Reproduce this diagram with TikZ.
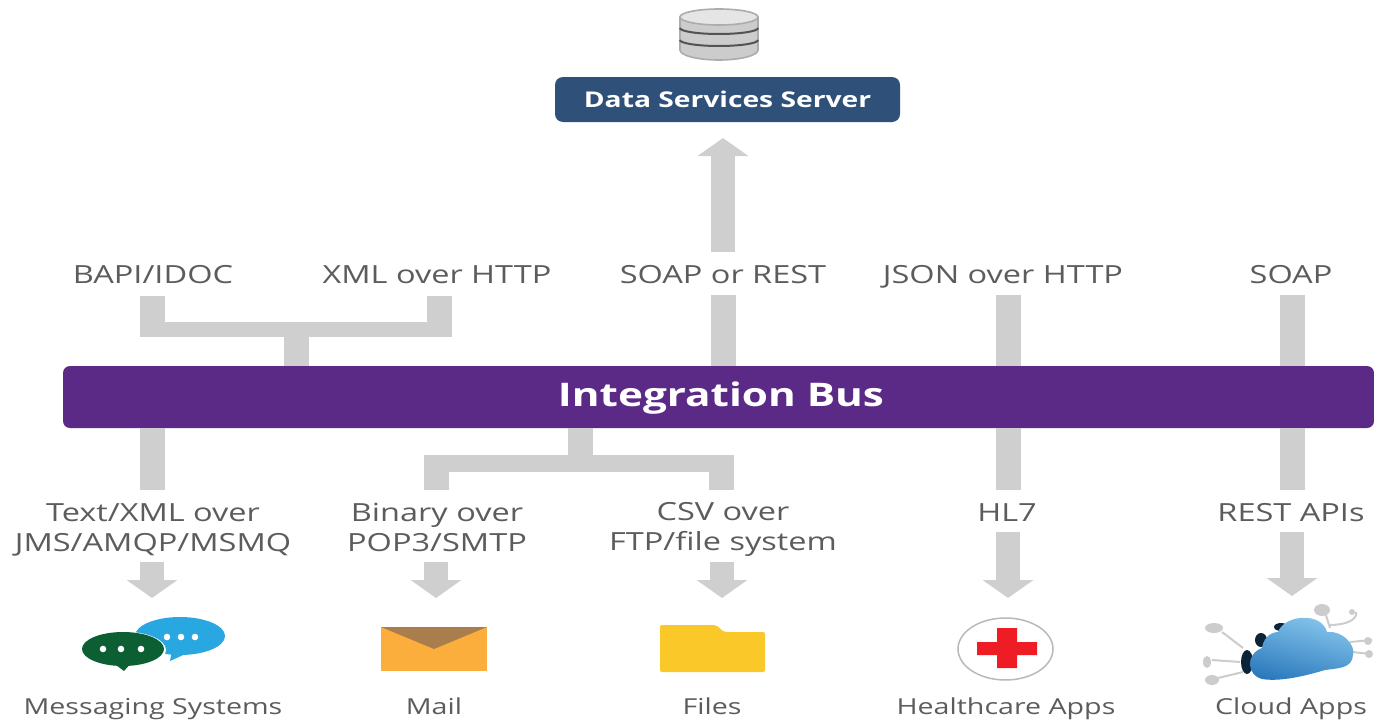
\documentclass[tikz,border=0pt]{standalone}
\usepackage{fontspec}
\setmainfont{Open Sans}
\newfontfamily\widefont[FakeStretch=1.3]{Open Sans}
\usetikzlibrary{arrows.meta}
\definecolor{barc}{HTML}{CFCFCF}
\definecolor{txt}{HTML}{5C5C5C}
\definecolor{busc}{HTML}{5B2A86}
\definecolor{srv}{HTML}{2F5078}
\definecolor{msgblue}{HTML}{29A7E1}
\definecolor{msggreen}{HTML}{0B5F33}
\definecolor{envbody}{HTML}{FBAE3C}
\definecolor{envflap}{HTML}{A97E4C}
\definecolor{foldc}{HTML}{FBC82A}
\definecolor{crossc}{HTML}{EE1C25}
\definecolor{cloudlight}{HTML}{8CCBF0}
\definecolor{clouddark}{HTML}{2A78BC}
\tikzset{
  lbl/.style={text=txt,font=\widefont\fontsize{25}{30}\selectfont,align=center,inner sep=0pt,anchor=center,text height=18pt,text depth=0pt},
  caplbl/.style={text=txt,font=\widefont\fontsize{22}{26}\selectfont,inner sep=0pt,anchor=center,text height=16pt,text depth=0pt},
  bar/.style={draw=barc,line width=25pt},
  hbar/.style={draw=barc},
  arr/.style={draw=barc,line width=24pt,-{Triangle[width=50pt,length=18pt]}},
  doodle/.style={draw=gray!40,line width=2pt},
}
\begin{document}
\begin{tikzpicture}[x=1pt,y=-1pt]
\useasboundingbox (0,0) rectangle (1374,720);
% nodes
\node[fill=busc,rounded corners=7pt,minimum width=1311pt,minimum height=62pt,inner sep=0pt] (bus) at (718.5,397) {};
\node[text=white,inner sep=0pt,font=\widefont\bfseries\fontsize{32.5}{36}\selectfont,text height=23pt,text depth=0pt] (bustxt) at (721,395) {Integration Bus};
\node[fill=srv,rounded corners=8pt,minimum width=345pt,minimum height=45pt,inner sep=0pt] (server) at (727.5,99.5) {};
\node[text=white,inner sep=0pt,font=\widefont\bfseries\fontsize{21.7}{24}\selectfont,text height=15pt,text depth=0pt] (servertxt) at (727.5,99.5) {Data Services Server};
\node[lbl] (bapi) at (153,274) {BAPI/IDOC};
\node[lbl] (xml) at (437,274) {XML over HTTP};
\node[lbl] (soaprest) at (723,274) {SOAP or REST};
\node[lbl] (json) at (1003,274) {JSON over HTTP};
\node[lbl] (soap) at (1291,274) {SOAP};
\node[lbl] (textxml) at (153,542) {Text/XML over\\JMS/AMQP/MSMQ};
\node[lbl] (binary) at (437,542) {Binary over\\POP3/SMTP};
\node[lbl] (csv) at (723,541) {CSV over\\FTP/file system};
\node[lbl] (hl) at (1007,512) {HL7};
\node[lbl] (rest) at (1291,512) {REST APIs};
\node[caplbl] (capmsg) at (153,706) {Messaging Systems};
\node[caplbl] (capmail) at (434,706) {Mail};
\node[caplbl] (capfiles) at (712,706) {Files};
\node[caplbl] (caphealth) at (1006,706) {Healthcare Apps};
\node[caplbl] (capcloud) at (1291,706) {Cloud Apps};
% coordinates
\coordinate (jl) at (296,329.5);
\coordinate (jb) at (580,463.5);
\coordinate (a) at (152.5,296);
\coordinate (b) at (439,296);
\coordinate (aend) at (296,337);
\coordinate (s) at (723,295);
\coordinate (j) at (1008,295);
\coordinate (r) at (1292,295);
\coordinate (lm) at (152,490);
\coordinate (lb) at (436.5,490);
\coordinate (lc) at (721.5,490);
\coordinate (lh) at (1008,490);
\coordinate (lr) at (1292,490);
\coordinate (bstart) at (580,455);
% connectors
\draw[bar] (a) -- (a |- aend);
\draw[bar] (b) -- (b |- aend);
\draw[hbar,line width=15pt] (a |- jl) -- (b |- jl);
\draw[bar] (jl) -- (jl |- bus.north);
\draw[bar] (s) -- (s |- bus.north);
\draw[bar] (j) -- (j |- bus.north);
\draw[bar] (r) -- (r |- bus.north);
\draw[bar] (lm |- bus.south) -- (lm);
\draw[bar] (jb |- bus.south) -- (jb);
\draw[hbar,line width=17pt] (lb |- jb) -- (lc |- jb);
\draw[bar] (lb |- bstart) -- (lb);
\draw[bar] (lc |- bstart) -- (lc);
\draw[bar] (lh |- bus.south) -- (lh);
\draw[bar] (lr |- bus.south) -- (lr);
\coordinate (upstart) at (723,252);
\coordinate (uptip) at (723,138);
\draw[arr] (upstart) -- (uptip);
\coordinate (d1) at (152,562); \coordinate (e1) at (152,598);
\coordinate (d2) at (436,562); \coordinate (e2) at (436,598);
\coordinate (d3) at (722,562); \coordinate (e3) at (722,598);
\coordinate (d4) at (1008,532); \coordinate (e4) at (1008,598);
\coordinate (d5) at (1292,532); \coordinate (e5) at (1292,596);
\draw[arr] (d1) -- (e1);
\draw[arr] (d2) -- (e2);
\draw[arr] (d3) -- (e3);
\draw[arr] (d4) -- (e4);
\draw[arr] (d5) -- (e5);
% database icon
\fill[gray!40] (680,17) -- (680,50) arc[start angle=180,end angle=0,x radius=39,y radius=10] -- (758,17) -- cycle;
\draw[gray!65,line width=1.6pt] (680,17) -- (680,50) arc[start angle=180,end angle=0,x radius=39,y radius=10] -- (758,17);
\draw[gray!65,line width=1.6pt,fill=gray!20] (719,17) ellipse[x radius=39,y radius=8];
\draw[line width=2pt,gray!65!black] (680,28) arc[start angle=180,end angle=0,x radius=39,y radius=6];
\draw[line width=2pt,gray!65!black] (680,40) arc[start angle=180,end angle=0,x radius=39,y radius=6];
% messaging icon
\fill[msgblue] (180,636) ellipse[x radius=45,y radius=19];
\fill[msgblue] (172,650) -- (190,652) -- (170,661) -- cycle;
\foreach \x in {167,181,195}{\fill[white] (\x,637) circle (3.3);}
\fill[white] (123,650) ellipse[x radius=43,y radius=18.5];
\fill[msggreen] (123,649) ellipse[x radius=41,y radius=17];
\fill[msggreen] (112,662) -- (132,662) -- (124,671) -- cycle;
\foreach \x in {103,121,141}{\fill[white] (\x,649) circle (3.3);}
% mail icon
\fill[envbody] (381,627) rectangle (487,671);
\fill[envflap] (381,627) -- (487,627) -- (434,649) -- cycle;
% folder icon
\fill[foldc,rounded corners=2pt] (660,625) -- (716,625) -- (724,632) -- (765,632) -- (765,672) -- (660,672) -- cycle;
% healthcare icon
\draw[gray!55,line width=1.5pt,fill=white] (1005.5,649) ellipse[x radius=47.5,y radius=31];
\fill[crossc] (997,628) -- (1017,628) -- (1017,642) -- (1037,642) -- (1037,655) -- (1017,655) -- (1017,668) -- (997,668) -- (997,655) -- (977,655) -- (977,642) -- (997,642) -- cycle;
% cloud icon
\draw[doodle] (1243,648) -- (1222,632) (1240,662) -- (1212,660) (1243,672) -- (1218,678) (1330,628) -- (1325,612) (1330,625) .. controls (1345,625) and (1358,620) .. (1356,612) (1350,642) -- (1372,640) (1352,652) -- (1372,654);
\fill[gray!40] (1214,628) ellipse[x radius=9,y radius=5] (1207,662) ellipse[x radius=4,y radius=6] (1212,680) ellipse[x radius=7,y radius=5] (1322,610) ellipse[x radius=8,y radius=6] (1352,612) circle (3) (1368,641) circle (4) (1369,654) circle (4);
\fill[black!70!clouddark] (1247,662) ellipse[x radius=6,y radius=12] (1261,640) ellipse[x radius=6,y radius=7] (1281,627) ellipse[x radius=7,y radius=4];
\shade[top color=cloudlight,bottom color=clouddark,shading angle=-15]
  (1262,679) .. controls (1248,676) and (1244,655) .. (1262,648)
  .. controls (1264,634) and (1275,632) .. (1278,632)
  .. controls (1285,614) and (1322,612) .. (1327,632)
  .. controls (1342,630) and (1356,645) .. (1353,655)
  .. controls (1352,668) and (1340,668) .. (1325,670)
  .. controls (1305,676) and (1280,682) .. (1262,679) -- cycle;
\end{tikzpicture}
\end{document}
